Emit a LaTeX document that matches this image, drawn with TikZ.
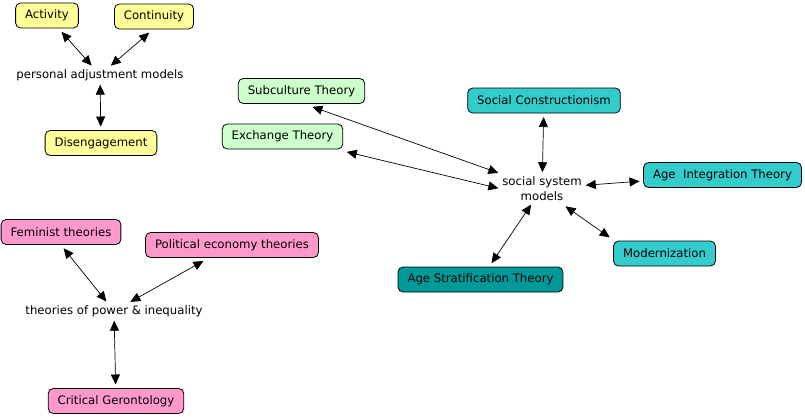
\documentclass[tikz,border=0pt]{standalone}
\usepackage{fontspec}
\setmainfont{DejaVu Sans}
\usetikzlibrary{arrows.meta}
\definecolor{cyel}{HTML}{FFFF99}
\definecolor{cgrn}{HTML}{CCFFCC}
\definecolor{cteal}{HTML}{33CCCC}
\definecolor{cdteal}{HTML}{009999}
\definecolor{cpink}{HTML}{FF99CC}
\begin{document}
\begin{tikzpicture}[x=1pt,y=-1pt,
  every node/.style={font=\fontsize{11.7}{15.5}\selectfont, text=black},
  box/.style={draw=black, line width=0.8pt, rounded corners=5pt, minimum height=25pt, inner xsep=9.5pt, inner ysep=2pt, outer sep=3pt},
  concept/.style={inner sep=1pt, outer sep=2pt, align=center},
  link/.style={line width=0.7pt, {Triangle[length=10pt,width=9pt]}-{Triangle[length=10pt,width=9pt]}, shorten <=1pt, shorten >=1pt}
]
\useasboundingbox[fill=white] (0,0) rectangle (805,416);

% personal adjustment
\node[box, fill=cyel] (act) at (47,15.5) {Activity};
\node[box, fill=cyel] (cont) at (154,16.5) {Continuity};
\node[concept] (pam) at (100,75) {personal adjustment models};
\node[box, fill=cyel] (dis) at (101,143) {Disengagement};

% social system
\node[box, fill=cgrn] (sub) at (301.5,91) {Subculture Theory};
\node[box, fill=cgrn] (exc) at (282.5,136.5) {Exchange Theory};
\node[box, fill=cteal] (soc) at (544,100.5) {Social Constructionism};
\node[concept] (ssm) at (542,188.5) {social system\\models};
\node[box, fill=cteal] (ait) at (722.5,175) {Age\ \ Integration Theory};
\node[box, fill=cteal] (mod) at (664.5,253.5) {Modernization};
\node[box, fill=cdteal] (ast) at (480.5,279.5) {Age Stratification Theory};

% power
\node[box, fill=cpink] (fem) at (61,232) {Feminist theories};
\node[box, fill=cpink] (pol) at (232,245) {Political economy theories};
\node[concept] (tpi) at (114,311) {theories of power \& inequality};
\node[box, fill=cpink] (crit) at (116,401) {Critical Gerontology};

\draw[link] (act) -- (pam);
\draw[link] ([xshift=-4pt]cont.south) -- (pam);
\draw[link] (pam) -- (dis);

\draw[link] ([xshift=10pt]sub.south) -- (ssm.north west);
\draw[link] (exc) -- (ssm.west);
\draw[link] (soc) -- (ssm);
\draw[link] (ssm) -- (ait);
\draw[link] ([xshift=-20pt,yshift=-2pt]ssm.south east) -- (mod.north west);
\draw[link] (ssm) -- (ast);

\draw[link] ([xshift=2pt]fem.south) -- (tpi);
\draw[link] (pol) -- (tpi);
\draw[link] (tpi) -- (crit);
\end{tikzpicture}
\end{document}
